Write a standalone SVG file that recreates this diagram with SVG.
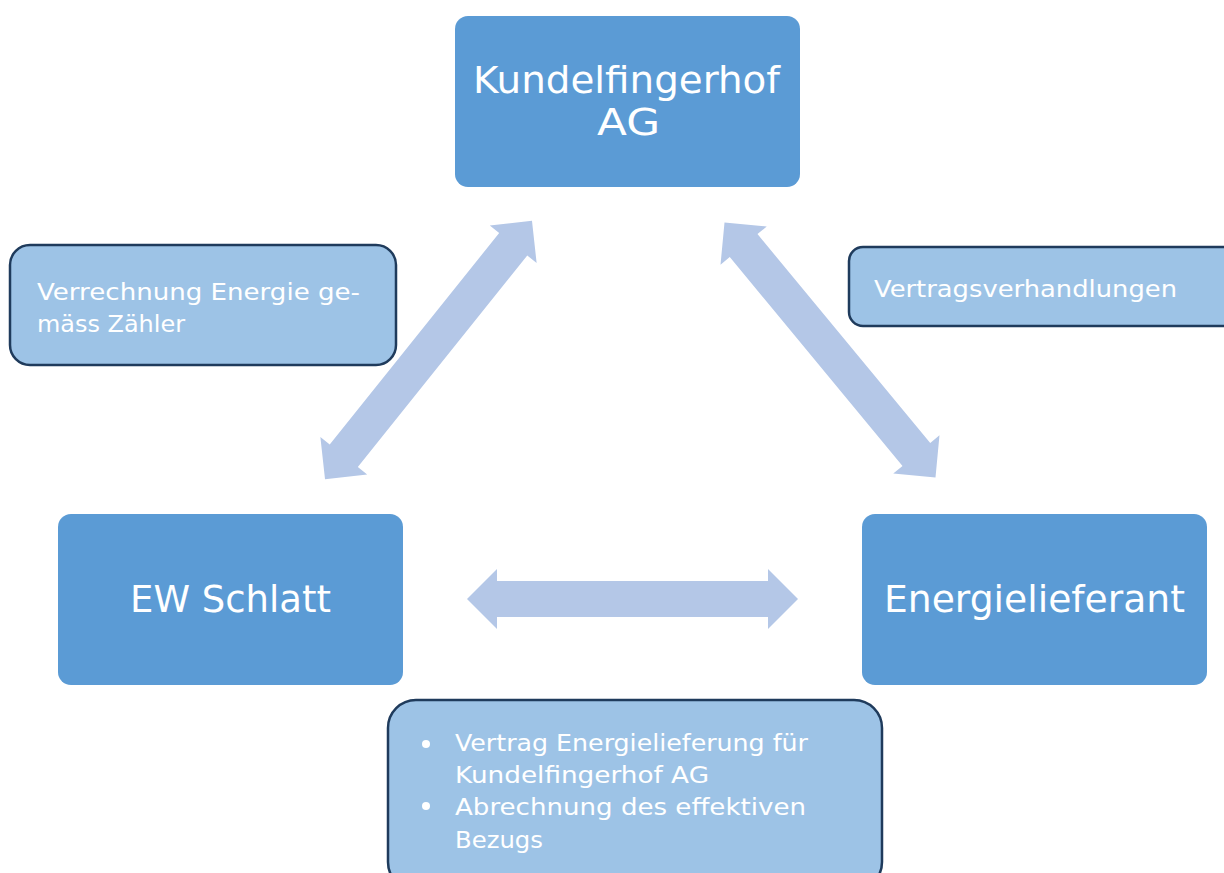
<svg xmlns="http://www.w3.org/2000/svg" width="1224" height="873" viewBox="0 0 1224 873">
<style>
.main{fill:#5b9bd5}
.call{fill:#9dc3e6;stroke:#1f3b5c;stroke-width:2.5}
.arr{fill:#b4c7e7}
.t{font-family:"DejaVu Sans","Liberation Sans",sans-serif;fill:#ffffff;font-weight:normal}
.big{font-size:38px}
.small{font-size:23px}
</style>
<defs>
<path id="dbl" d="M -165.5 0 L -135.5 -30 L -135.5 -18 L 135.5 -18 L 135.5 -30 L 165.5 0 L 135.5 30 L 135.5 18 L -135.5 18 L -135.5 30 Z"/>
</defs>
<rect width="1224" height="873" fill="#ffffff"/>
<g id="connectors">
<use href="#dbl" class="arr" transform="translate(428.5,350) rotate(-51.3)"/>
<use href="#dbl" class="arr" transform="translate(830,350) rotate(50.4)"/>
<use href="#dbl" class="arr" transform="translate(632.5,599)"/>
</g>
<g id="kundelfingerhof">
<rect class="main" x="455" y="16" width="345" height="171" rx="13"/>
<text class="t big" x="473" y="93" textLength="307" lengthAdjust="spacingAndGlyphs">Kundelfingerhof</text>
<text class="t big" x="597" y="135" textLength="63" lengthAdjust="spacingAndGlyphs">AG</text>
</g>
<g id="ew-schlatt">
<rect class="main" x="58" y="514" width="345" height="171" rx="13"/>
<text class="t big" x="130" y="612" textLength="201" lengthAdjust="spacingAndGlyphs">EW Schlatt</text>
</g>
<g id="energielieferant">
<rect class="main" x="862" y="514" width="345" height="171" rx="13"/>
<text class="t big" x="884" y="612" textLength="301" lengthAdjust="spacingAndGlyphs">Energielieferant</text>
</g>
<g id="note-verrechnung">
<rect class="call" x="10" y="245" width="386" height="120" rx="20"/>
<text class="t small" x="37" y="300" textLength="323" lengthAdjust="spacingAndGlyphs">Verrechnung Energie ge-</text>
<text class="t small" x="37" y="332" textLength="148" lengthAdjust="spacingAndGlyphs">mäss Zähler</text>
</g>
<g id="note-vertrag">
<rect class="call" x="849" y="247" width="390" height="79" rx="14"/>
<text class="t small" x="874" y="297" textLength="303" lengthAdjust="spacingAndGlyphs">Vertragsverhandlungen</text>
</g>
<g id="note-bottom">
<rect class="call" x="388" y="700" width="494" height="190" rx="28"/>
<circle cx="426" cy="744" r="4" fill="#ffffff"/>
<circle cx="426" cy="806" r="4" fill="#ffffff"/>
<text class="t small" x="455" y="751" textLength="353" lengthAdjust="spacingAndGlyphs">Vertrag Energielieferung für</text>
<text class="t small" x="455" y="783" textLength="254" lengthAdjust="spacingAndGlyphs">Kundelfingerhof AG</text>
<text class="t small" x="455" y="815" textLength="351" lengthAdjust="spacingAndGlyphs">Abrechnung des effektiven</text>
<text class="t small" x="455" y="848" textLength="88" lengthAdjust="spacingAndGlyphs">Bezugs</text>
</g>
</svg>
